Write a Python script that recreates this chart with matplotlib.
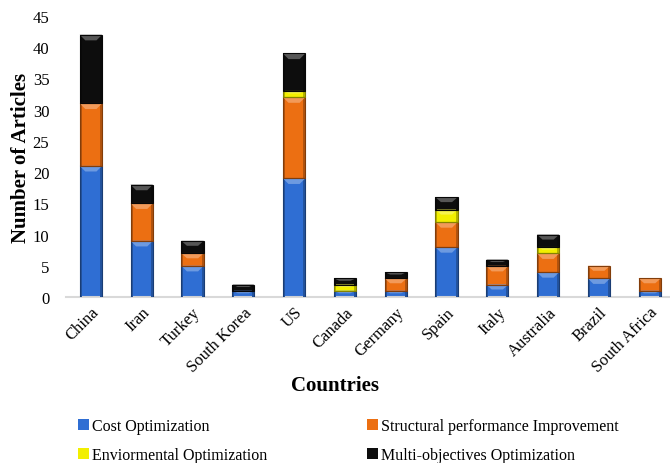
import matplotlib.pyplot as plt
import matplotlib.colors as mcolors
from matplotlib.patches import Polygon, Rectangle
import numpy as np

plt.rcParams["font.family"] = ["Liberation Serif", "DejaVu Serif"]

countries = ["China", "Iran", "Turkey", "South Korea", "US", "Canada",
             "Germany", "Spain", "Italy", "Australia", "Brazil", "South Africa"]
cost = [21, 9, 5, 1, 19, 1, 1, 8, 2, 4, 3, 1]
structural = [10, 6, 2, 0, 13, 0, 2, 4, 3, 3, 2, 2]
environmental = [0, 0, 0, 0, 1, 1, 0, 2, 0, 1, 0, 0]
multi = [11, 3, 2, 1, 6, 1, 1, 2, 1, 2, 0, 0]

series_names = ["Cost Optimization", "Structural performance Improvement",
                "Enviormental Optimization", "Multi-objectives Optimization"]
series_colors = ["#2f6ed3", "#ec6f12", "#f2ef00", "#0d0d0d"]


def shade(color, factor):
    rgb = np.array(mcolors.to_rgb(color))
    if factor > 1:
        return tuple(rgb + (1 - rgb) * (factor - 1))
    return tuple(rgb * factor)


def bevel(ax, bars, color):
    # soft bevel: darker sides and a light chevron across the top of each segment
    for rect in bars:
        x, y = rect.get_x(), rect.get_y()
        w, h = rect.get_width(), rect.get_height()
        if h <= 0:
            continue
        side = w * 0.09
        ax.add_patch(Rectangle((x, y), side, h, color=shade(color, 0.75), lw=0, zorder=3))
        ax.add_patch(Rectangle((x + w - side, y), side, h, color=shade(color, 0.75), lw=0, zorder=3))
        d = min(0.9, h * 0.4)
        ax.add_patch(Polygon([(x, y + h), (x + w, y + h), (x + w - 0.25 * w, y + h - d),
                              (x + 0.25 * w, y + h - d)],
                             closed=True, color=shade(color, 1.3), lw=0, zorder=3))
        ax.add_patch(Rectangle((x, y), w, h, fill=False, ec=shade(color, 0.55), lw=0.8, zorder=4))


fig = plt.figure(figsize=(6.7, 4.64), dpi=100)
ax = fig.add_axes([66 / 670, 1 - 298 / 464, 1 - 66 / 670, (298 - 17) / 464])

x = np.arange(len(countries))
bottom = np.zeros(len(countries))
handles = []
for vals, name, color in zip([cost, structural, environmental, multi], series_names, series_colors):
    vals = np.array(vals, dtype=float)
    bars = ax.bar(x, vals, 0.44, bottom=bottom, color=color, zorder=2, label=name)
    bevel(ax, bars, color)
    bottom += vals
    handles.append(bars)

ax.set_xlim(-0.49, 11.4)
ax.set_ylim(0, 45)
ax.set_yticks(range(0, 46, 5))
ax.tick_params(axis="y", length=0, pad=12, labelsize=12)
ax.tick_params(axis="x", length=0, pad=5, labelsize=12)
ax.set_xticks(x)
ax.set_xticklabels(countries, rotation=45, ha="right", rotation_mode="anchor")

for s in ["top", "right", "left"]:
    ax.spines[s].set_visible(False)
ax.spines["bottom"].set_color("#d9d9d9")
ax.spines["bottom"].set_linewidth(1.5)

ax.set_ylabel("Number of Articles", fontsize=15, fontweight="bold", labelpad=1)
fig.text(0.5, 1 - 386 / 464, "Countries", fontsize=15, fontweight="bold",
         ha="center", va="center")

# two legend columns: cost / environmental on the left, structural / multi on the right
legend_kw = dict(loc="upper left", frameon=False, fontsize=11.5, handlelength=0.7,
                 handleheight=0.7, handletextpad=0.15, labelspacing=0.8,
                 borderaxespad=0, borderpad=0)
leg1 = fig.legend([handles[0], handles[2]], [series_names[0], series_names[2]],
                  bbox_to_anchor=(78 / 670, 1 - 419 / 464), **legend_kw)
leg2 = fig.legend([handles[1], handles[3]], [series_names[1], series_names[3]],
                  bbox_to_anchor=(367 / 670, 1 - 419 / 464), **legend_kw)

fig.savefig("out.png", dpi=100)
